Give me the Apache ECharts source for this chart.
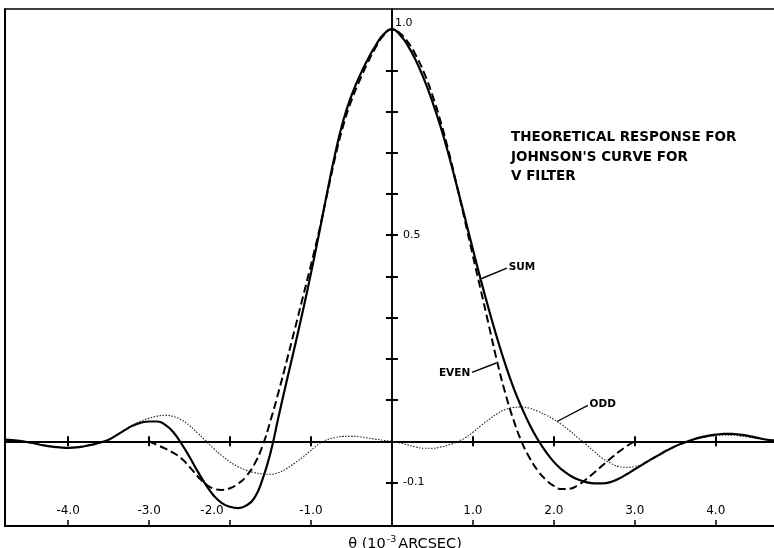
<!DOCTYPE html>
<html>
<head>
<meta charset="utf-8">
<script src="https://cdn.jsdelivr.net/npm/echarts@6.0.0/dist/echarts.min.js"></script>
<style>
  html, body { margin: 0; padding: 0; background: #fff; }
  #chart { width: 774px; height: 548px; }
</style>
</head>
<body>
<div id="chart"></div>
<script>
// Angle θ in units of 10^-3 arcsec, response normalised to 1 at the centre.
const thetaX = [-4.78, -4.6, -4.5, -4.4, -4.3, -4.2, -4.1, -4.0, -3.9, -3.8, -3.7, -3.6, -3.5, -3.4, -3.3, -3.2, -3.1,
  -3.0, -2.9, -2.8, -2.7, -2.6, -2.5, -2.4, -2.3, -2.2, -2.1, -2.0, -1.9, -1.8, -1.7, -1.6, -1.5, -1.4, -1.3, -1.2, -1.1,
  -1.0, -0.9, -0.8, -0.7, -0.6, -0.5, -0.4, -0.3, -0.2, -0.1, 0, 0.1, 0.2, 0.3, 0.4, 0.5, 0.6, 0.7, 0.8, 0.9,
  1.0, 1.1, 1.2, 1.3, 1.4, 1.5, 1.6, 1.7, 1.8, 1.9, 2.0, 2.1, 2.2, 2.3, 2.4, 2.5, 2.6, 2.7, 2.8, 2.9,
  3.0, 3.1, 3.2, 3.3, 3.4, 3.5, 3.6, 3.7, 3.8, 3.9, 4.0, 4.1, 4.2, 4.3, 4.4, 4.5, 4.6, 4.72];

const sumY = [0.004, 0.001, -0.002, -0.006, -0.01, -0.013, -0.015, -0.016, -0.015, -0.012, -0.008, -0.003, 0.004, 0.015, 0.027, 0.038, 0.045,
  0.048, 0.048, 0.04, 0.022, -0.006, -0.038, -0.073, -0.105, -0.132, -0.15, -0.159, -0.162, -0.156, -0.138, -0.093, -0.028, 0.06, 0.146, 0.23, 0.317,
  0.408, 0.504, 0.604, 0.699, 0.779, 0.839, 0.886, 0.926, 0.961, 0.988, 1.0, 0.986, 0.959, 0.922, 0.877, 0.824, 0.764, 0.696, 0.621, 0.544,
  0.466, 0.39, 0.318, 0.25, 0.187, 0.131, 0.083, 0.041, 0.005, -0.025, -0.05, -0.069, -0.083, -0.093, -0.099, -0.102, -0.102, -0.099, -0.091, -0.08,
  -0.068, -0.056, -0.044, -0.033, -0.022, -0.012, -0.004, 0.003, 0.009, 0.013, 0.016, 0.018, 0.018, 0.016, 0.013, 0.009, 0.005, 0.002];

const oddY = [0.004, 0.001, -0.002, -0.006, -0.01, -0.013, -0.015, -0.016, -0.015, -0.012, -0.008, -0.003, 0.004, 0.015, 0.028, 0.04, 0.049,
  0.056, 0.061, 0.063, 0.06, 0.052, 0.038, 0.02, 0.001, -0.018, -0.035, -0.05, -0.062, -0.07, -0.076, -0.079, -0.08, -0.076, -0.066, -0.053, -0.038,
  -0.022, -0.006, 0.004, 0.009, 0.012, 0.012, 0.011, 0.008, 0.005, 0.002, 0, -0.004, -0.009, -0.014, -0.017, -0.017, -0.014, -0.009, -0.002, 0.008,
  0.022, 0.038, 0.053, 0.067, 0.077, 0.082, 0.083, 0.08, 0.073, 0.064, 0.053, 0.04, 0.025, 0.008, -0.008, -0.025, -0.041, -0.053, -0.061, -0.063,
  -0.061, -0.055, -0.045, -0.034, -0.023, -0.013, -0.005, 0.002, 0.007, 0.011, 0.013, 0.015, 0.015, 0.013, 0.01, 0.007, 0.004, 0.001];

const evenX = [-3.0, -2.9, -2.8, -2.7, -2.6, -2.5, -2.4, -2.3, -2.2, -2.1, -2.0, -1.9, -1.8, -1.7, -1.6, -1.5, -1.4, -1.3, -1.2, -1.1,
  -1.0, -0.9, -0.8, -0.7, -0.6, -0.5, -0.4, -0.3, -0.2, -0.1, 0, 0.1, 0.2, 0.3, 0.4, 0.5, 0.6, 0.7, 0.8, 0.9,
  1.0, 1.1, 1.2, 1.3, 1.4, 1.5, 1.6, 1.7, 1.8, 1.9, 2.0, 2.1, 2.2, 2.3, 2.4, 2.5, 2.6, 2.7, 2.8, 2.9, 3.0];
const evenY = [0, -0.009, -0.018, -0.028, -0.042, -0.062, -0.085, -0.104, -0.115, -0.118, -0.114, -0.103, -0.085, -0.056, -0.012, 0.05, 0.12, 0.195, 0.272, 0.35,
  0.428, 0.51, 0.6, 0.69, 0.767, 0.827, 0.875, 0.918, 0.956, 0.986, 1.0, 0.99, 0.968, 0.935, 0.893, 0.84, 0.777, 0.704, 0.622, 0.537,
  0.45, 0.365, 0.279, 0.193, 0.117, 0.053, 0.0, -0.04, -0.071, -0.093, -0.108, -0.116, -0.115, -0.106, -0.092, -0.076, -0.059, -0.042, -0.026, -0.012, 0];

const xTickValues = [-4, -3, -2, -1, 1, 2, 3, 4];
const yTickValues = [-0.1, 0.1, 0.2, 0.3, 0.4, 0.5, 0.6, 0.7, 0.8, 0.9];
const yLabelValues = [-0.1, 0.5, 1.0];

const noteText = ['THEORETICAL RESPONSE FOR', "JOHNSON'S CURVE FOR", 'V FILTER'];
const axisTitle = '\u03B8 (10{sup|-3}ARCSEC)';

// Leader lines: a point on the curve and the point next to its tag
const sumTag = { text: 'SUM', curve: [1.11, 0.395], tag: [1.42, 0.42] };
const evenTag = { text: 'EVEN', tag: [0.99, 0.167], curve: [1.29, 0.19] };
const oddTag = { text: 'ODD', curve: [2.04, 0.048], tag: [2.42, 0.087] };

const X_MIN = -4.78, X_MAX = 4.72;
const Y_MIN = -0.2056, Y_MAX = 1.049;
const GRID = { left: 5, right: 0, top: 9, bottom: 22 };
const WIDTH = 774;

const INK = '#000';
const FONT = 'DejaVu Sans';

function pairs(xs, ys) { return xs.map((x, i) => [x, ys[i]]); }

function baseX(extra) {
  return Object.assign({
    type: 'value', min: X_MIN, max: X_MAX,
    splitLine: { show: false },
    axisLabel: { show: false },
    axisTick: { show: false },
    axisLine: { show: true, onZero: false, lineStyle: { color: INK, width: 2 } }
  }, extra);
}
function baseY(extra) {
  return Object.assign({
    type: 'value', min: Y_MIN, max: Y_MAX,
    splitLine: { show: false },
    axisLabel: { show: false },
    axisTick: { show: false },
    axisLine: { show: true, onZero: false, lineStyle: { color: INK, width: 2 } }
  }, extra);
}

function leader(tag, position) {
  const from = position === 'start' ? tag.tag : tag.curve;
  const to = position === 'start' ? tag.curve : tag.tag;
  return {
    silent: true,
    symbol: ['none', 'none'],
    animation: false,
    lineStyle: { color: INK, width: 1.4, type: 'solid' },
    label: {
      show: true, position: position, distance: 2, formatter: tag.text,
      color: INK, fontFamily: FONT, fontWeight: 'bold', fontSize: 10.5
    },
    emphasis: { disabled: true },
    data: [[{ coord: from }, { coord: to }]]
  };
}

// distance from the grid's left edge to θ = 0, used to place the value labels beside that axis
const zeroShift = (0 - X_MIN) / (X_MAX - X_MIN) * (WIDTH - GRID.left - GRID.right);

const chart = echarts.init(document.getElementById('chart'), null, { renderer: 'canvas' });

chart.setOption({
  animation: false,
  backgroundColor: '#fff',
  title: {
    text: noteText.join('\n'),
    left: 511, top: 128, padding: 0,
    textStyle: { color: INK, fontFamily: FONT, fontWeight: 'bold', fontSize: 13.5, lineHeight: 19.5 }
  },
  grid: Object.assign({ outerBoundsMode: 'none' }, GRID),
  xAxis: [
    // bottom frame with the θ scale
    baseX({
      position: 'bottom',
      axisTick: { show: true, inside: true, length: 6, customValues: xTickValues, lineStyle: { color: INK, width: 1.5 } },
      axisLabel: {
        show: true, inside: true, margin: 9, customValues: xTickValues,
        color: INK, fontFamily: FONT, fontSize: 12,
        formatter: v => (v === -2 ? '{shift|' + v.toFixed(1) + '}' : v.toFixed(1)),
        rich: { shift: { color: INK, fontFamily: FONT, fontSize: 12, padding: [0, 36, 0, 0] } }
      },
      name: axisTitle,
      nameLocation: 'middle',
      nameGap: 9,
      nameTextStyle: {
        color: INK, fontFamily: FONT, fontSize: 14.5, padding: [0, 0, 0, 31],
        rich: { sup: { color: INK, fontFamily: FONT, fontSize: 9.5, padding: [0, 2, 9, 1] } }
      }
    }),
    // zero line, ticks below
    baseX({
      position: 'bottom',
      axisLine: { show: true, onZero: true, onZeroAxisIndex: 0, lineStyle: { color: INK, width: 1.8 } },
      axisTick: { show: true, length: 5, customValues: xTickValues, lineStyle: { color: INK, width: 2 } }
    }),
    // zero line, ticks above
    baseX({
      position: 'top',
      axisLine: { show: true, onZero: true, onZeroAxisIndex: 0, lineStyle: { color: INK, width: 1.8 } },
      axisTick: { show: true, length: 5, customValues: xTickValues, lineStyle: { color: INK, width: 2 } }
    }),
    // top frame
    baseX({ position: 'top', axisLine: { show: true, onZero: false, lineStyle: { color: INK, width: 1.6 } } })
  ],
  yAxis: [
    // left frame
    baseY({ position: 'left' }),
    // θ = 0 axis, ticks to the left
    baseY({
      position: 'left',
      axisLine: { show: true, onZero: true, onZeroAxisIndex: 0, lineStyle: { color: INK, width: 1.6 } },
      axisTick: { show: true, length: 6, customValues: yTickValues, lineStyle: { color: INK, width: 2 } }
    }),
    // θ = 0 axis, ticks to the right
    baseY({
      position: 'right',
      axisLine: { show: true, onZero: true, onZeroAxisIndex: 0, lineStyle: { color: INK, width: 1.6 } },
      axisTick: { show: true, length: 6, customValues: yTickValues, lineStyle: { color: INK, width: 2 } }
    }),
    // value labels written just right of the θ = 0 axis
    baseY({
      position: 'left',
      offset: -zeroShift,
      axisLine: { show: false },
      axisLabel: {
        show: true, inside: true, margin: 3, customValues: yLabelValues,
        color: INK, fontFamily: FONT, fontSize: 11,
        formatter: v => (v === 1 ? '{hi|1.0}' : '{lo|' + v.toFixed(1) + '}'),
        rich: {
          hi: { color: INK, fontFamily: FONT, fontSize: 11, padding: [0, 0, 12, 0] },
          lo: { color: INK, fontFamily: FONT, fontSize: 11, padding: [0, 0, 0, 8] }
        }
      }
    })
  ],
  series: [
    {
      type: 'line', name: 'ODD', xAxisIndex: 0, yAxisIndex: 0,
      data: pairs(thetaX, oddY), showSymbol: false, smooth: 0.5,
      lineStyle: { color: '#222', width: 1.1, type: [1.5, 1.5] },
      markLine: leader(oddTag, 'end')
    },
    {
      type: 'line', name: 'EVEN', xAxisIndex: 0, yAxisIndex: 0,
      data: pairs(evenX, evenY), showSymbol: false, smooth: 0.5,
      lineStyle: { color: INK, width: 2, type: [8, 4] },
      markLine: leader(evenTag, 'start')
    },
    {
      type: 'line', name: 'SUM', xAxisIndex: 0, yAxisIndex: 0,
      data: pairs(thetaX, sumY), showSymbol: false, smooth: 0.5,
      lineStyle: { color: INK, width: 2.2 },
      markLine: leader(sumTag, 'end')
    }
  ]
});
</script>
</body>
</html>
